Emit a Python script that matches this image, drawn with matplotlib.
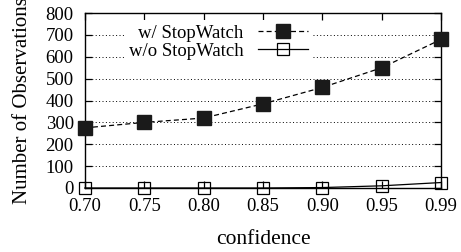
import matplotlib
matplotlib.use("Agg")
from matplotlib import pyplot as plt

confidence = ["0.70", "0.75", "0.80", "0.85", "0.90", "0.95", "0.99"]
with_sw = [275, 300, 320, 385, 460, 550, 680]
without_sw = [0, 0, 0, 0, 2, 10, 25]
yticks = [0, 100, 200, 300, 400, 500, 600, 700, 800]

plt.rcParams['font.family'] = ['Liberation Serif', 'DejaVu Serif']
plt.rcParams['font.size'] = 13.5

fig = plt.figure(figsize=(4.61, 2.52), dpi=100)
ax = fig.add_axes([0.184, 0.254, 0.773, 0.694])

x = list(range(len(confidence)))
ax.plot(x, with_sw, linestyle=(0, (4, 2.5)), color='black', linewidth=0.9,
        marker='s', markersize=9.5, markerfacecolor='#1a1a1a',
        markeredgecolor='#1a1a1a', label='w/ StopWatch', clip_on=False, zorder=3)
ax.plot(x, without_sw, linestyle='-', color='black', linewidth=0.9,
        marker='s', markersize=9, markerfacecolor='none',
        markeredgecolor='black', markeredgewidth=0.9,
        label='w/o StopWatch', clip_on=False, zorder=3)

ax.set_xlim(0, len(confidence) - 1)
ax.set_ylim(0, 800)
ax.set_xticks(x)
ax.set_xticklabels(confidence)
ax.set_yticks(yticks)
ax.yaxis.grid(True, linestyle=(0, (1, 2.5)), color='black', linewidth=0.7)
ax.set_axisbelow(True)
ax.tick_params(direction='in', top=True, right=True, length=5, width=0.9,
               labelsize=13.5)
ax.tick_params(axis='x', pad=7)
ax.tick_params(axis='y', pad=8)
for s in ax.spines.values():
    s.set_linewidth(1.0)

ax.set_xlabel("confidence", fontsize=15.5, labelpad=11)
ax.set_ylabel("Number of Observations", fontsize=15, labelpad=9.5)

leg = ax.legend(loc='upper right', bbox_to_anchor=(0.64, 0.96), frameon=True,
                markerfirst=False, handlelength=2.7, borderpad=0.25,
                labelspacing=0.05, fontsize=13.5, fancybox=False,
                borderaxespad=0.0, handletextpad=0.75)
leg.get_frame().set_edgecolor('white')
leg.get_frame().set_facecolor('white')
leg.get_frame().set_alpha(1.0)
leg.get_frame().set_linewidth(0)
for t in leg.get_texts():
    t.set_ha('right')

fig.savefig("out.png", dpi=100)
